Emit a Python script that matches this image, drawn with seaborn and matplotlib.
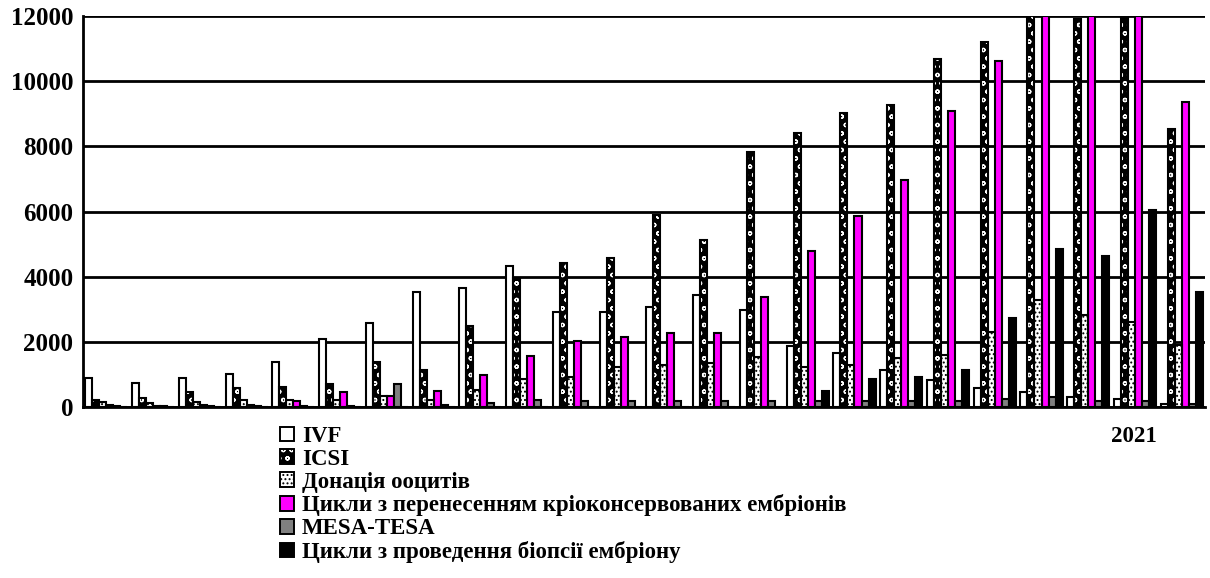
import numpy as np
import pandas as pd
import matplotlib
matplotlib.use("Agg")
import matplotlib.pyplot as plt
import matplotlib.transforms as mtransforms
from matplotlib.patches import Patch
import seaborn as sns

years = [1998, 1999, 2000, 2001, 2002, 2003, 2004, 2005, 2006, 2007, 2008, 2009,
         2010, 2011, 2012, 2013, 2014, 2015, 2016, 2017, 2018, 2019, 2020, 2021]
series_names = ["IVF", "ICSI", "Донація ооцитів",
                "Цикли з перенесенням кріоконсервованих ембріонів",
                "MESA-TESA", "Цикли з проведення біопсії ембріону"]
ivf = [890, 750, 880, 1000, 1370, 2080, 2570, 3530, 3660, 4330, 2930, 2930,
       3080, 3440, 2980, 1880, 1660, 1150, 830, 590, 470, 300, 250, 100]
icsi = [230, 290, 450, 570, 620, 700, 1370, 1140, 2500, 3950, 4410, 4560,
        5890, 5130, 7830, 8410, 9030, 9260, 10680, 11200, 12000, 11900, 11930, 8540]
donation = [150, 120, 140, 210, 210, 210, 330, 210, 520, 860, 930, 1240,
            1290, 1340, 1545, 1240, 1290, 1490, 1600, 2310, 3280, 2820, 2620, 1900]
cryo = [50, 30, 50, 50, 180, 450, 350, 500, 980, 1580, 2030, 2160,
        2280, 2260, 3390, 4800, 5860, 6970, 9090, 10620, 12000, 12000, 12000, 9350]
mesa = [20, 20, 20, 20, 30, 30, 700, 60, 120, 210, 190, 200,
        200, 200, 170, 200, 200, 200, 200, 260, 300, 200, 200, 100]
biopsy = [0, 0, 0, 0, 0, 0, 0, 0, 0, 0, 0, 0,
          0, 0, 0, 500, 850, 930, 1140, 2720, 4850, 4640, 6060, 3520]

values = [ivf, icsi, donation, cryo, mesa, biopsy]
df = pd.DataFrame([
    {"year": str(y), "series": s, "value": v}
    for s, vals in zip(series_names, values)
    for y, v in zip(years, vals)
])

styles = [
    dict(facecolor="white", edgecolor="black", hatch=None),
    dict(facecolor="black", edgecolor="white", hatch="oo"),
    dict(facecolor="white", edgecolor="black", hatch="...."),
    dict(facecolor="#ff00ff", edgecolor="black", hatch=None),
    dict(facecolor="#808080", edgecolor="black", hatch=None),
    dict(facecolor="black", edgecolor="black", hatch=None),
]

sns.set_theme(style="white")
plt.rcParams["font.family"] = ["Liberation Serif", "DejaVu Serif"]
plt.rcParams["font.weight"] = "bold"
plt.rcParams["hatch.linewidth"] = 0.9
plt.rcParams["text.color"] = "black"
plt.rcParams["xtick.color"] = "black"
plt.rcParams["ytick.color"] = "black"

fig, ax = plt.subplots(figsize=(12.10, 5.78), dpi=100)
fig.subplots_adjust(left=0.0686, right=0.996, top=0.9723, bottom=0.2958)

palette = {s: st["facecolor"] for s, st in zip(series_names, styles)}
sns.barplot(data=df, x="year", y="value", hue="series", hue_order=series_names,
            palette=palette, width=0.9, dodge=True, legend=False, ax=ax,
            saturation=1, linewidth=1.5, edgecolor="black")

for cont, st in zip(ax.containers, styles):
    for p in cont.patches:
        p.set_facecolor(st["facecolor"])
        if st["hatch"]:
            p.set_hatch(st["hatch"])
            p.set_edgecolor(st["edgecolor"])
            p.set_linewidth(0.0)
        else:
            p.set_edgecolor("black")
            p.set_linewidth(1.5)

# hatched bars get a black outline drawn on top
for cont in (ax.containers[1], ax.containers[2]):
    for p in cont.patches:
        ax.add_patch(plt.Rectangle(p.get_xy(), p.get_width(), p.get_height(),
                                   fill=False, edgecolor="black", linewidth=1.5))

ax.set_ylim(0, 12000)
ax.set_xlim(-0.5, len(years) - 0.5)
ax.set_yticks(np.arange(0, 12001, 2000))
ax.yaxis.grid(True, color="black", linewidth=2)
ax.set_axisbelow(True)
ax.set_xlabel("")
ax.set_ylabel("")

for sp in ["top", "right"]:
    ax.spines[sp].set_visible(False)
for sp in ["left", "bottom"]:
    ax.spines[sp].set_color("black")
    ax.spines[sp].set_linewidth(2)

ax.tick_params(axis="y", which="major", direction="out", length=5, width=1.5,
               color="black", labelcolor="black", labelsize=18, pad=2)
ax.set_xticks(np.arange(-0.5, len(years), 1), minor=True)
ax.tick_params(axis="x", which="minor", direction="out", length=6, width=1.5, color="black")
ax.set_xticks(range(len(years)))
ax.set_xticklabels(["" if i < len(years) - 1 else str(y) for i, y in enumerate(years)])
ax.tick_params(axis="x", which="major", length=0, labelsize=16.5, pad=14,
               labelcolor="black")
for lab in ax.get_xticklabels() + ax.get_yticklabels():
    lab.set_fontweight("bold")
shift = mtransforms.ScaledTranslation(-0.48, 0, fig.dpi_scale_trans)
for lab in ax.get_xticklabels():
    lab.set_transform(lab.get_transform() + shift)

handles = []
for st in styles:
    base = Patch(facecolor=st["facecolor"],
                 edgecolor=(st["edgecolor"] if st["hatch"] else "black"),
                 hatch=st["hatch"], linewidth=(0 if st["hatch"] else 1.4))
    if st["hatch"]:
        outline = Patch(facecolor="none", edgecolor="black", linewidth=1.4)
        handles.append((base, outline))
    else:
        handles.append(base)
leg = fig.legend(handles, series_names, loc="upper left",
                 bbox_to_anchor=(280 / 1210, 1 - 426 / 578), frameon=False,
                 handlelength=0.6, handleheight=0.6, handletextpad=0.35,
                 labelspacing=0.08, borderpad=0, borderaxespad=0,
                 prop={"family": "Liberation Serif", "weight": "bold", "size": 16.5})
for t in leg.get_texts():
    t.set_color("black")

fig.savefig("out.png", dpi=100)
